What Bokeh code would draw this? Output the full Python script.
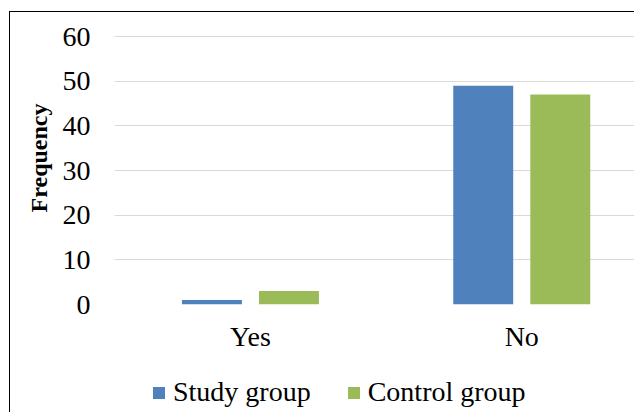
from bokeh.plotting import figure
from bokeh.models import (Range1d, FixedTicker, ColumnDataSource, Legend, LegendItem, Title)
from bokeh.layouts import column
from bokeh.transform import dodge
from bokeh.embed import file_html
from bokeh.resources import INLINE

# ---- data ----
categories = ["Yes", "No"]
study_group = [1, 49]
control_group = [3, 47]
series_names = ["Study group", "Control group"]
y_ticks = [0, 10, 20, 30, 40, 50, 60]
y_label = "Frequency"

BLUE = "#4F81BD"
GREEN = "#9BBB59"
FONT = "Liberation Serif"

xpos = [i + 0.5 for i in range(len(categories))]
src = ColumnDataSource(dict(x=xpos, study=study_group, control=control_group))

W, H = 624, 360
CAT = 271.3          # pixels per category
LEFT = 104           # canvas px of frame left
x0 = (LEFT + 10 - 114.3) / CAT
x1 = x0 + (W - LEFT) / CAT
p = figure(width=W, height=H, output_backend="svg", toolbar_location=None,
           x_range=Range1d(x0, x1), y_range=Range1d(0, 60.45),
           min_border_left=LEFT, min_border_right=0, min_border_top=22,
           min_border_bottom=68)
p.outline_line_color = None
p.background_fill_color = "white"
p.border_fill_color = "white"

off = 0.142
bw = 0.221
p.vbar(x=dodge("x", -off), top="study", width=bw, source=src,
       fill_color=BLUE, line_color=None)
p.vbar(x=dodge("x", off), top="control", width=bw, source=src,
       fill_color=GREEN, line_color=None)

# axes
p.xaxis.ticker = FixedTicker(ticks=xpos)
p.xaxis.major_label_overrides = {x: c for x, c in zip(xpos, categories)}
p.yaxis.ticker = FixedTicker(ticks=y_ticks)
for ax in (p.xaxis, p.yaxis):
    ax.axis_line_color = None
    ax.major_tick_line_color = None
    ax.minor_tick_line_color = None
    ax.major_tick_out = 0
    ax.major_tick_in = 0
    ax.major_label_text_font = FONT
    ax.major_label_text_color = "black"
p.yaxis.major_label_text_font_size = "28px"
p.yaxis.major_label_standoff = 24
p.xaxis.major_label_text_font_size = "28px"
p.xaxis.major_label_standoff = 16

p.xgrid.grid_line_color = None
p.ygrid.grid_line_color = "#D9D9D9"
p.ygrid.grid_line_width = 1
p.ygrid.ticker = FixedTicker(ticks=y_ticks)

# y axis title
ytitle = Title(text=y_label, align="right", offset=69, vertical_align="bottom",
               standoff=16, text_font=FONT, text_font_size="24px",
               text_font_style="bold", text_color="black")
p.add_layout(ytitle, "left")

# legend strip (its frame is aligned with the main plot's frame)
lg = figure(width=W, height=40, output_backend="svg", toolbar_location=None,
            x_range=Range1d(0, 2), y_range=Range1d(0, 60),
            x_axis_type=None, y_axis_type=None,
            min_border_left=0, min_border_right=0, min_border_top=0,
            min_border_bottom=0)
lg.outline_line_color = None
lg.grid.grid_line_color = None
lsrc = ColumnDataSource(dict(x=xpos, study=study_group, control=control_group))
k1 = lg.vbar(x="x", top="study", width=0.1, source=lsrc, fill_color=BLUE,
             line_color=None, visible=False)
k2 = lg.vbar(x="x", top="control", width=0.1, source=lsrc, fill_color=GREEN,
             line_color=None, visible=False)
legend = Legend(items=[LegendItem(label=series_names[0], renderers=[k1]),
                       LegendItem(label=series_names[1], renderers=[k2])],
                orientation="horizontal", location=(37, 4),
                glyph_width=15, glyph_height=15, label_standoff=7, spacing=35,
                padding=0, margin=0, border_line_color=None,
                background_fill_alpha=0, inactive_fill_alpha=0,
                label_text_font=FONT, label_text_font_size="28px",
                label_text_color="black")
lg.add_layout(legend, "center")

layout = column(p, lg, spacing=0)
layout.styles = {"border-top": "1px solid black", "border-left": "1px solid black",
                 "margin-top": "11px", "margin-left": "9px"}

open("out.html", "w").write(file_html(layout, INLINE))
